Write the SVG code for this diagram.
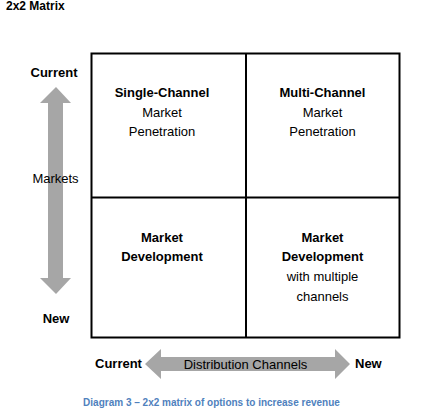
<svg xmlns="http://www.w3.org/2000/svg" width="423" height="416" viewBox="0 0 423 416">
<style>
.t{font-family:"Liberation Sans",Arial,sans-serif;fill:#000}
.b{font-weight:bold}
.s13{font-size:13px}
.mid{text-anchor:middle}
.arrow{fill:#a6a6a6}
.grid{fill:none;stroke:#000;stroke-width:2}
.cap{font-family:"Liberation Sans",Arial,sans-serif;font-size:10px;font-weight:bold;fill:#4f81bd}
</style>
<rect width="423" height="416" fill="#fff"/>
<text class="t b" x="6" y="10" font-size="12">2x2 Matrix</text>

<g id="connectors">
  <polygon id="arrow-markets" class="arrow" points="56,87 71,103 63,103 63,278 71,278 56,294 40,278 48,278 48,103 40,103"/>
  <polygon id="arrow-channels" class="arrow" points="145,364 161,349 161,357 335,357 335,349 350,364 335,379 335,371 161,371 161,379"/>
</g>

<g id="matrix">
  <rect class="grid" x="91.5" y="53.5" width="308" height="284"/>
  <line class="grid" x1="246" y1="53.5" x2="246" y2="337.5"/>
  <line class="grid" x1="91.5" y1="197.5" x2="399.5" y2="197.5"/>
</g>

<g id="q-single">
  <text class="t s13 mid" x="162"><tspan class="b" x="162" y="97">Single-Channel</tspan><tspan x="162" y="116.7">Market</tspan><tspan x="162" y="136.4">Penetration</tspan></text>
</g>
<g id="q-multi">
  <text class="t s13 mid" x="322.5"><tspan class="b" x="322.5" y="97">Multi-Channel</tspan><tspan x="322.5" y="116.7">Market</tspan><tspan x="322.5" y="136.4">Penetration</tspan></text>
</g>
<g id="q-dev">
  <text class="t s13 mid b"><tspan x="162" y="241.5">Market</tspan><tspan x="162" y="261.2">Development</tspan></text>
</g>
<g id="q-dev-multi">
  <text class="t s13 mid"><tspan class="b" x="322.5" y="241.5">Market</tspan><tspan class="b" x="322.5" y="261.2">Development</tspan><tspan x="322.5" y="280.9">with multiple</tspan><tspan x="322.5" y="300.6">channels</tspan></text>
</g>

<g id="labels">
  <text class="t s13 b mid" x="54" y="77">Current</text>
  <text class="t s13 mid" x="55.5" y="183">Markets</text>
  <text class="t s13 b mid" x="56" y="323">New</text>
  <text class="t s13 b" x="95" y="368">Current</text>
  <text class="t s13 mid" x="245.5" y="369">Distribution Channels</text>
  <text class="t s13 b" x="355" y="368">New</text>
</g>

<text class="cap mid" x="211.5" y="406">Diagram 3 – 2x2 matrix of options to increase revenue</text>
</svg>
